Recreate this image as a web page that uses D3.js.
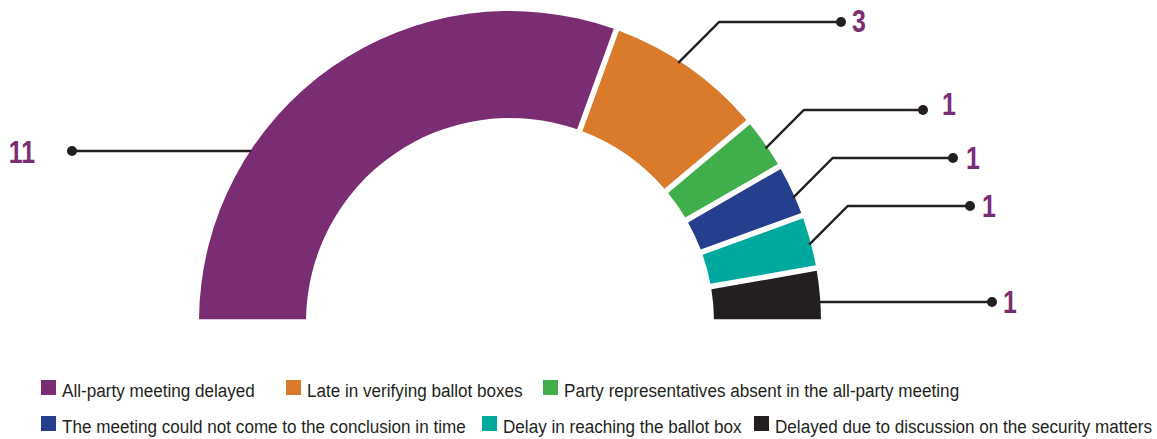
<!DOCTYPE html>
<html>
<head>
<meta charset="utf-8">
<script src="https://cdn.jsdelivr.net/npm/d3@7/dist/d3.min.js"></script>
<style>
  html, body { margin: 0; padding: 0; background: #ffffff; }
  svg { display: block; }
</style>
</head>
<body>
<svg id="chart" width="1157" height="439"></svg>
<script>
// ---- data ----
const categories = [
  "All-party meeting delayed",
  "Late in verifying ballot boxes",
  "Party representatives absent in the all-party meeting",
  "The meeting could not come to the conclusion in time",
  "Delay in reaching the ballot box",
  "Delayed due to discussion on the security matters"
];
const values = [11, 3, 1, 1, 1, 1];
const valueLabels = ["11", "3", "1", "1", "1", "1"];
const colors = ["#7b2d74", "#d97b2b", "#40ae4a", "#253f8e", "#00a99e", "#231f20"];

// ---- layout (positions, not data) ----
const cx = 510, cy = 322, rOuter = 311, rInner = 204;
const numCondense = 0.8, legCondense = 0.9;
const fontFam = "'Liberation Sans', Arial, sans-serif";
const leaderLayout = [
  { anchorDeg: null, labelY: 151, dotX: 72,  textX: 35,   anchor: "end",   textDy: 12 },
  { anchorDeg: 33,   labelY: 22,  dotX: 841, textX: 852,  anchor: "start", textDy: 10 },
  { anchorDeg: 55.8, labelY: 110, dotX: 923, textX: 942,  anchor: "start", textDy: 5 },
  { anchorDeg: 66.3, labelY: 158, dotX: 953, textX: 966,  anchor: "start", textDy: 11 },
  { anchorDeg: 75.5, labelY: 206, dotX: 970, textX: 982,  anchor: "start", textDy: 11 },
  { anchorDeg: null, labelY: 302, dotX: 992, textX: 1003, anchor: "start", textDy: 11 }
];
const legendLayout = [
  { x: 41,  row: 0 }, { x: 286, row: 0 }, { x: 543, row: 0 },
  { x: 41,  row: 1 }, { x: 482, row: 1 }, { x: 754, row: 1 }
];
const legendRowY = [388, 424];

const svg = d3.select("#chart");

// boundaries sit exactly at value proportions; the gap is carved from both sides
const pie = d3.pie()
  .value(d => d)
  .sort(null)
  .startAngle(-Math.PI / 2)
  .endAngle(Math.PI / 2);

const arcs = pie(values);
const arc = d3.arc().innerRadius(rInner).outerRadius(rOuter).padAngle(0.015);

const g = svg.append("g").attr("transform", `translate(${cx},${cy})`);
g.selectAll("path.slice")
  .data(arcs)
  .join("path")
  .attr("class", "slice")
  .attr("d", arc)
  .attr("fill", (d, i) => colors[i]);

// ---- leaders ----
const lg = svg.append("g");
arcs.forEach((a, i) => {
  const L = leaderLayout[i];
  let pts;
  if (L.anchorDeg === null) {
    const dy = cy - L.labelY;
    const dx = Math.sqrt(rOuter * rOuter - dy * dy);
    const side = L.dotX < cx ? -1 : 1;
    const sx = cx + side * (dx - 1);
    pts = [[sx, L.labelY], [L.dotX, L.labelY]];
  } else {
    const ang = L.anchorDeg * Math.PI / 180;
    const r = 309;
    const sx = cx + r * Math.sin(ang);
    const sy = cy - r * Math.cos(ang);
    const ex = sx + (sy - L.labelY);
    pts = [[sx, sy], [ex, L.labelY], [L.dotX, L.labelY]];
  }
  lg.append("path")
    .attr("d", d3.line()(pts))
    .attr("fill", "none")
    .attr("stroke", "#231f20")
    .attr("stroke-width", 2.4);
  lg.append("circle")
    .attr("cx", L.dotX).attr("cy", L.labelY).attr("r", 5)
    .attr("fill", "#231f20");
  lg.append("g")
    .attr("transform", `translate(${L.textX},${L.labelY + L.textDy}) scale(${numCondense},1)`)
    .append("text")
    .attr("text-anchor", L.anchor)
    .attr("font-family", fontFam)
    .attr("font-weight", "bold")
    .attr("font-size", 31)
    .attr("fill", "#7b2d74")
    .text(valueLabels[i]);
});

// ---- legend ----
const leg = svg.append("g");
categories.forEach((c, i) => {
  const p = legendLayout[i];
  const y = legendRowY[p.row];
  leg.append("rect")
    .attr("x", p.x).attr("y", y - 8).attr("width", 15).attr("height", 15)
    .attr("fill", colors[i]);
  leg.append("g")
    .attr("transform", `translate(${p.x + 21},${y + 8.5}) scale(${legCondense},1)`)
    .append("text")
    .attr("font-family", fontFam)
    .attr("font-size", 19)
    .attr("fill", "#231f20")
    .text(c);
});
</script>
</body>
</html>
